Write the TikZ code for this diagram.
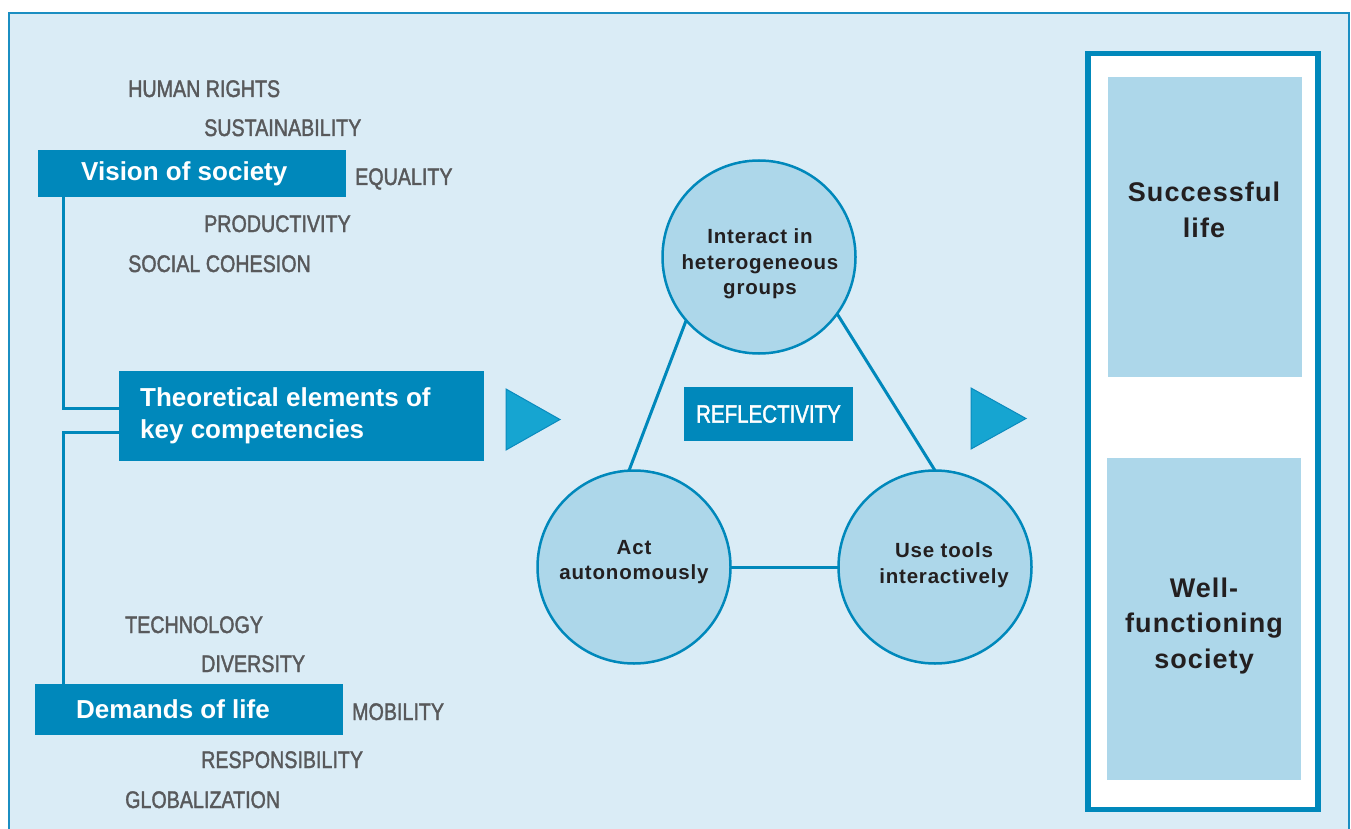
\documentclass[tikz,border=0pt]{standalone}
\usepackage{fontspec}
\setmainfont{Liberation Sans}
\newfontfamily\condfont[FakeStretch=0.82,FakeBold=1.6]{Liberation Sans}
\newfontfamily\spacedfont[LetterSpace=4]{Liberation Sans}
\definecolor{bg}{HTML}{DAECF6}
\definecolor{framec}{HTML}{1B8EC2}
\definecolor{darkb}{HTML}{0088BB}
\definecolor{lightb}{HTML}{ADD7EA}
\definecolor{trif}{HTML}{16A5D1}
\definecolor{trid}{HTML}{0B8BBE}
\definecolor{grayt}{HTML}{58595B}
\definecolor{blackt}{HTML}{231F20}
\begin{document}
\begin{tikzpicture}[x=1pt,y=-1pt,
  darkbox/.style={fill=darkb,draw=none,inner sep=0pt,outer sep=0pt,anchor=north west},
  lightbox/.style={fill=lightb,draw=none,inner sep=0pt,outer sep=0pt,anchor=north west},
  graylab/.style={font=\condfont\fontsize{24}{24}\selectfont,text=grayt,anchor=base west,inner sep=0pt},
  boxtext/.style={font=\bfseries\fontsize{26}{32}\selectfont,text=white,anchor=west,inner sep=0pt,align=left},
  circ/.style={circle,draw=darkb,fill=lightb,line width=2.5pt,minimum size=193pt,inner sep=0pt,outer sep=0pt},
  ctext/.style={font=\spacedfont\bfseries\fontsize{20.5}{25.5}\selectfont,text=blackt,align=center,inner sep=0pt},
  rtext/.style={font=\spacedfont\bfseries\fontsize{27}{35.5}\selectfont,text=blackt,align=center,inner sep=0pt},
  link/.style={draw=darkb,line width=3pt},
  tri/.style={fill=trif,draw=trid,line width=1pt,line join=miter}]
\useasboundingbox (0,0) rectangle (1351,829);
\clip (0,0) rectangle (1351,829);
\fill[white] (0,0) rectangle (1351,829);
\draw[framec,line width=1.5pt,fill=bg] (9,13) rectangle (1349,850);

% left boxes
\node[darkbox,minimum width=308pt,minimum height=47pt] (vision) at (38,150) {};
\node[darkbox,minimum width=365pt,minimum height=90pt] (theo) at (119,371) {};
\node[darkbox,minimum width=308pt,minimum height=51pt] (demands) at (35,684) {};
\node[boxtext] (visiont) at (81,174) {Vision of society};
\node[boxtext] (theot) at (140,416) {Theoretical elements of\\key competencies};
\node[boxtext] (demandst) at (76,709) {Demands of life};

\draw[link] ([xshift=25pt]vision.south west) |- ([yshift=8pt]theo.west);
\draw[link] ([yshift=-16pt]theo.west) -| ([xshift=28pt]demands.north west);

% gray labels
\node[graylab] (l1) at (128,97) {HUMAN RIGHTS};
\node[graylab] (l2) at (204,136) {SUSTAINABILITY};
\node[graylab] (l3) at (355,185) {EQUALITY};
\node[graylab] (l4) at (204,232) {PRODUCTIVITY};
\node[graylab] (l5) at (128,272) {SOCIAL COHESION};
\node[graylab] (l6) at (125,633) {TECHNOLOGY};
\node[graylab] (l7) at (201,672) {DIVERSITY};
\node[graylab] (l8) at (352,720) {MOBILITY};
\node[graylab] (l9) at (201,768) {RESPONSIBILITY};
\node[graylab] (l10) at (125,808) {GLOBALIZATION};

% triangles
\draw[tri] (506,389) -- (506,450) -- (560,419.5) -- cycle;
\draw[tri] (971,388) -- (971,449) -- (1026,418.5) -- cycle;

% circles
\node[circ] (inter) at (759,257) {};
\node[circ] (auto) at (634,567) {};
\node[circ] (tools) at (935,567) {};
\draw[link] (inter.221) -- (auto.93);
\draw[link] (inter.-36) -- (tools.90);
\draw[link] (auto.east) -- (tools.west);
\node[ctext] (intert) at (760,264) {Interact in\\heterogeneous\\groups};
\node[ctext] (autot) at (634,562) {Act\\autonomously};
\node[ctext] (toolst) at (944,565) {Use tools\\interactively};

\node[darkbox,minimum width=169pt,minimum height=54pt,text=white,font=\condfont\fontsize{25}{25}\selectfont] (refl) at (684,387) {REFLECTIVITY};

% right panel
\node[draw=darkb,line width=5.3pt,fill=white,minimum width=230pt,minimum height=756pt,anchor=north west,inner sep=0pt,outer sep=0pt] (panel) at (1088,53.3) {};
\node[lightbox,minimum width=194pt,minimum height=300pt] (succ) at (1108,77) {};
\node[lightbox,minimum width=194pt,minimum height=322pt] (well) at (1107,458) {};
\node[rtext] (succt) at (1204,210) {Successful\\life};
\node[rtext] (wellt) at (1204,626) {Well-\\functioning\\society};
\end{tikzpicture}
\end{document}
